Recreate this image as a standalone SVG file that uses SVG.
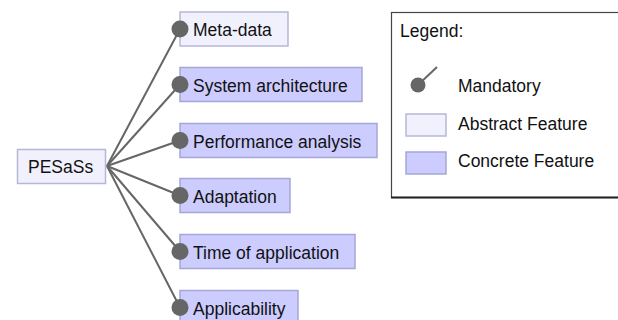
<svg xmlns="http://www.w3.org/2000/svg" width="618" height="320" viewBox="0 0 618 320">
<style>
text{font-family:"Liberation Sans",Arial,sans-serif;font-size:17.5px;fill:#111}
.abs{fill:#f1f1fd;stroke:#b6b6d8;stroke-width:1.5}
.con{fill:#ccccff;stroke:#a6a6d6;stroke-width:1.5}
.dot{fill:#666}
.edge{stroke:#666;stroke-width:2;fill:none}
</style>
<rect width="618" height="320" fill="#fff"/>
<g id="connectors">
<line class="edge" x1="107" y1="166" x2="180" y2="29"/>
<line class="edge" x1="107" y1="166" x2="180" y2="84.5"/>
<line class="edge" x1="107" y1="166" x2="180" y2="140.5"/>
<line class="edge" x1="107" y1="166" x2="180" y2="195.5"/>
<line class="edge" x1="107" y1="166" x2="180" y2="251.5"/>
<line class="edge" x1="107" y1="166" x2="180" y2="307.5"/>
</g>
<g id="root">
<rect class="abs" x="17.5" y="149.5" width="88" height="34"/>
<text x="28" y="173">PESaSs</text>
</g>
<g id="meta-data">
<rect class="abs" x="180" y="12" width="108" height="34"/>
<circle class="dot" cx="180" cy="29" r="8.5"/>
<text x="193" y="36">Meta-data</text>
</g>
<g id="system-architecture">
<rect class="con" x="180" y="67.5" width="182" height="34"/>
<circle class="dot" cx="180" cy="84.5" r="8.5"/>
<text x="193" y="91.5">System architecture</text>
</g>
<g id="performance-analysis">
<rect class="con" x="180" y="123.5" width="197" height="34"/>
<circle class="dot" cx="180" cy="140.5" r="8.5"/>
<text x="193" y="147.5">Performance analysis</text>
</g>
<g id="adaptation">
<rect class="con" x="180" y="178.5" width="110" height="34"/>
<circle class="dot" cx="180" cy="195.5" r="8.5"/>
<text x="193" y="202.5">Adaptation</text>
</g>
<g id="time-of-application">
<rect class="con" x="180" y="234.5" width="175" height="34"/>
<circle class="dot" cx="180" cy="251.5" r="8.5"/>
<text x="193" y="258.5">Time of application</text>
</g>
<g id="applicability">
<rect class="con" x="180" y="290.5" width="118" height="34"/>
<circle class="dot" cx="180" cy="307.5" r="8.5"/>
<text x="193" y="314.5">Applicability</text>
</g>
<g id="legend">
<rect x="391.5" y="12.5" width="240" height="185" fill="#fff" stroke="#444" stroke-width="1.2"/>
<line x1="391" y1="197.5" x2="618" y2="197.5" stroke="#222" stroke-width="2"/>
<text x="400" y="37">Legend:</text>
<line class="edge" x1="419" y1="84" x2="437" y2="67" stroke-width="1.5"/>
<circle class="dot" cx="418" cy="85" r="7.5"/>
<text x="458" y="92">Mandatory</text>
<rect class="abs" x="406" y="114" width="40" height="22"/>
<text x="458" y="130">Abstract Feature</text>
<rect class="con" x="406" y="152" width="40" height="22"/>
<text x="458" y="167">Concrete Feature</text>
</g>
</svg>
